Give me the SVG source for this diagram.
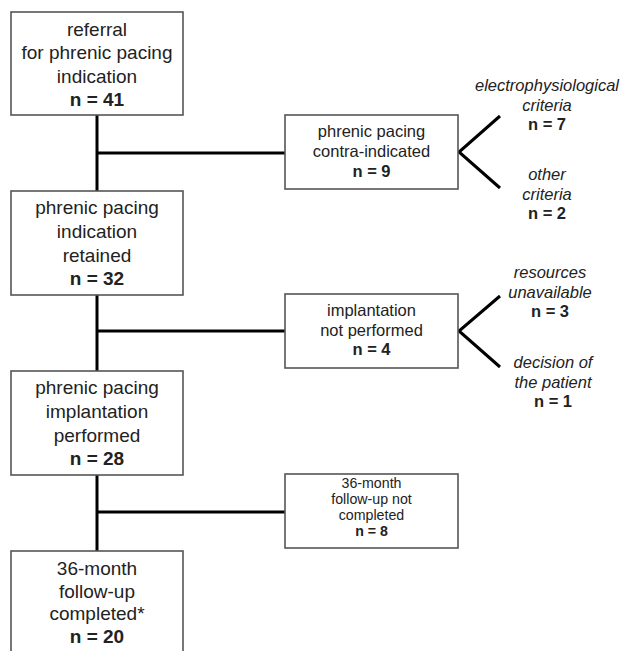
<svg xmlns="http://www.w3.org/2000/svg" width="622" height="651" viewBox="0 0 622 651">
<style>
.box{fill:#fff;stroke:#555;stroke-width:1.6}
.ln{stroke:#000;stroke-width:3;fill:none;stroke-linecap:butt}
.t{font-family:"Liberation Sans",Arial,sans-serif;fill:#222;text-anchor:middle}
.m{font-size:19px}
.s{font-size:16.5px}
.xs{font-size:14.2px}
.b{font-weight:bold}
.i{font-style:italic;font-size:16.5px}
</style>
<rect width="622" height="651" fill="#fff"/>
<g id="connectors">
<line class="ln" x1="97" y1="115" x2="97" y2="551"/>
<line class="ln" x1="97" y1="153" x2="285" y2="153"/>
<line class="ln" x1="97" y1="331" x2="285" y2="331"/>
<line class="ln" x1="97" y1="512" x2="285" y2="512"/>
<polyline class="ln" points="500,116 459,152 500,188"/>
<polyline class="ln" points="500,296 459,331 500,367"/>
</g>
<g id="n1">
<rect class="box" x="11" y="12" width="172" height="103"/>
<text class="t m" x="97" y="36">referral</text>
<text class="t m" x="97" y="59">for phrenic pacing</text>
<text class="t m" x="97" y="83">indication</text>
<text class="t m b" x="97" y="106">n = 41</text>
</g>
<g id="n2">
<rect class="box" x="11" y="191" width="172" height="104"/>
<text class="t m" x="97" y="214">phrenic pacing</text>
<text class="t m" x="97" y="238">indication</text>
<text class="t m" x="97" y="262">retained</text>
<text class="t m b" x="97" y="285">n = 32</text>
</g>
<g id="n3">
<rect class="box" x="11" y="371" width="172" height="104"/>
<text class="t m" x="97" y="394">phrenic pacing</text>
<text class="t m" x="97" y="418">implantation</text>
<text class="t m" x="97" y="442">performed</text>
<text class="t m b" x="97" y="465">n = 28</text>
</g>
<g id="n4">
<rect class="box" x="11" y="551" width="172" height="120"/>
<text class="t m" x="97" y="575">36-month</text>
<text class="t m" x="97" y="598">follow-up</text>
<text class="t m" x="97" y="620">completed*</text>
<text class="t m b" x="97" y="643">n = 20</text>
</g>
<g id="s1">
<rect class="box" x="285" y="115" width="173" height="74"/>
<text class="t s" x="371.5" y="137">phrenic pacing</text>
<text class="t s" x="371.5" y="157">contra-indicated</text>
<text class="t s b" x="371.5" y="177">n = 9</text>
</g>
<g id="s2">
<rect class="box" x="285" y="294" width="173" height="74"/>
<text class="t s" x="371.5" y="316">implantation</text>
<text class="t s" x="371.5" y="336">not performed</text>
<text class="t s b" x="371.5" y="355">n = 4</text>
</g>
<g id="s3">
<rect class="box" x="285" y="474" width="173" height="74"/>
<text class="t xs" x="371.5" y="488">36-month</text>
<text class="t xs" x="371.5" y="504">follow-up not</text>
<text class="t xs" x="371.5" y="520">completed</text>
<text class="t xs b" x="371.5" y="536">n = 8</text>
</g>
<g id="r1">
<text class="t i" x="547" y="91">electrophysiological</text>
<text class="t i" x="547" y="111">criteria</text>
<text class="t s b" x="547" y="130">n = 7</text>
</g>
<g id="r2">
<text class="t i" x="547" y="180">other</text>
<text class="t i" x="547" y="200">criteria</text>
<text class="t s b" x="547" y="219">n = 2</text>
</g>
<g id="r3">
<text class="t i" x="550" y="278">resources</text>
<text class="t i" x="550" y="298">unavailable</text>
<text class="t s b" x="550" y="317">n = 3</text>
</g>
<g id="r4">
<text class="t i" x="553" y="368">decision of</text>
<text class="t i" x="553" y="388">the patient</text>
<text class="t s b" x="553" y="407">n = 1</text>
</g>
</svg>
